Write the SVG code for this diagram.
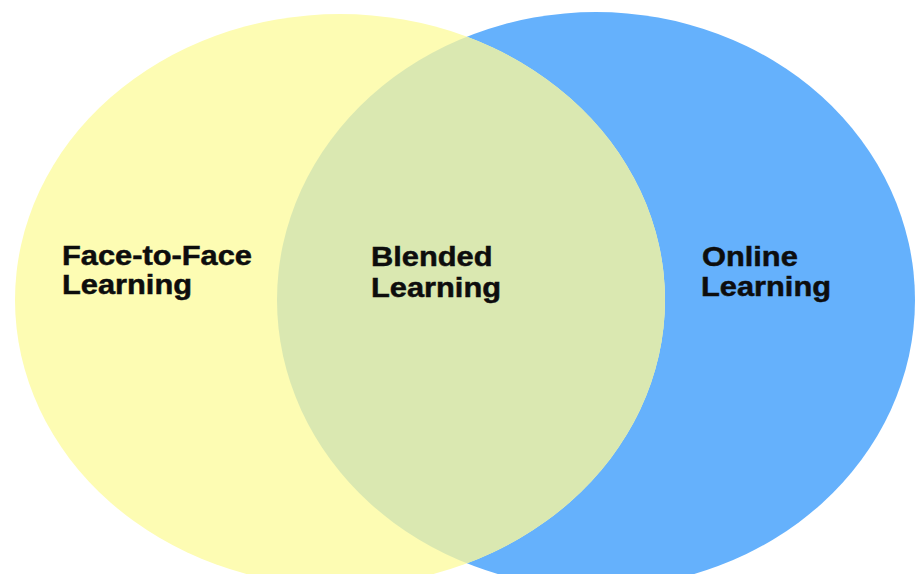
<svg xmlns="http://www.w3.org/2000/svg" width="915" height="574" viewBox="0 0 915 574">
  <style>
    .lbl { font-family: "Liberation Sans", Arial, sans-serif; font-weight: bold; font-size: 28px; fill: #0d0d0d; stroke: #0d0d0d; stroke-width: 0.5px; }
    .yellow { fill: #FDFCB3; }
    .blue { fill: #65B1FC; }
    .overlap { fill: #DAE8B1; }
  </style>
  <defs>
    <clipPath id="clipYellow">
      <ellipse cx="340" cy="300" rx="325" ry="286"/>
    </clipPath>
  </defs>
  <rect x="0" y="0" width="915" height="574" fill="#ffffff"/>
  <g id="online">
    <ellipse class="blue" cx="596" cy="300" rx="319" ry="288"/>
    <text class="lbl" transform="translate(702,266) scale(1.1,1)">Online</text>
    <text class="lbl" transform="translate(701,296) scale(1.1,1)">Learning</text>
  </g>
  <g id="face-to-face">
    <ellipse class="yellow" cx="340" cy="300" rx="325" ry="286"/>
    <text class="lbl" transform="translate(62,265) scale(1.1,1)">Face-to-Face</text>
    <text class="lbl" transform="translate(62,294) scale(1.1,1)">Learning</text>
  </g>
  <g id="blended">
    <ellipse class="overlap" cx="596" cy="300" rx="319" ry="288" clip-path="url(#clipYellow)"/>
    <text class="lbl" transform="translate(371,266) scale(1.1,1)">Blended</text>
    <text class="lbl" transform="translate(371,297) scale(1.1,1)">Learning</text>
  </g>
  <g id="connectors"></g>
</svg>
